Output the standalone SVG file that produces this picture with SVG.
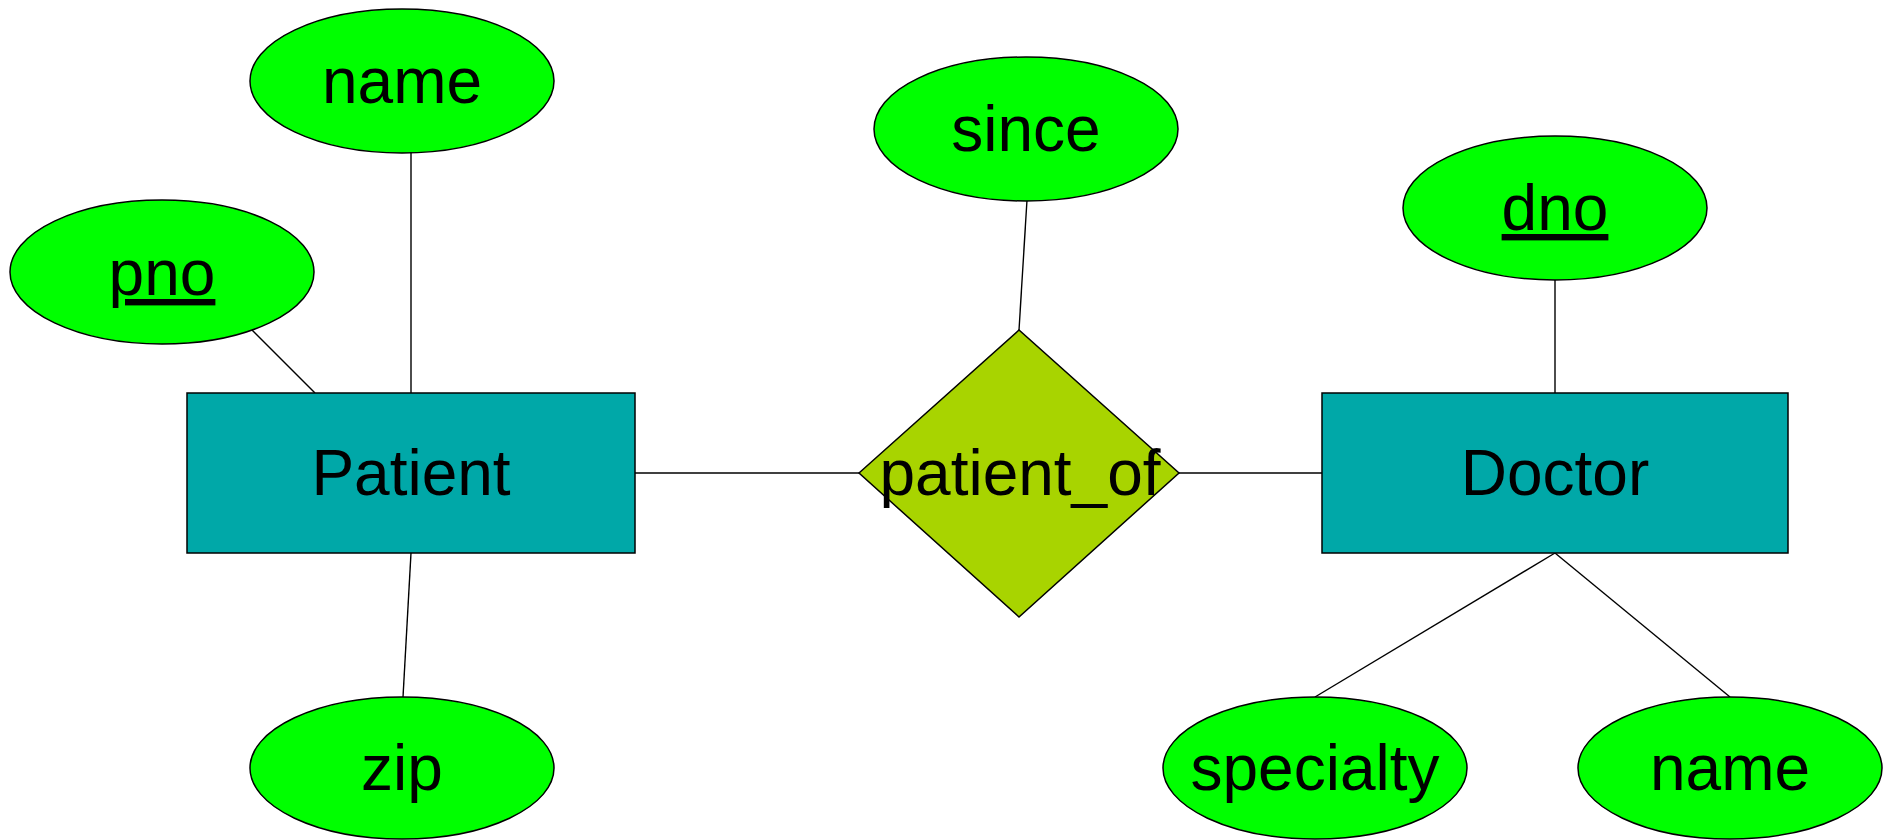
<svg xmlns="http://www.w3.org/2000/svg" width="1894" height="840" viewBox="0 0 1894 840">
<style>
.attr{fill:#00FF00;stroke:#000;stroke-width:1.5}
.ent{fill:#00A8A8;stroke:#000;stroke-width:1.5}
.rel{fill:#A8D400;stroke:#000;stroke-width:1.5}
.conn line{stroke:#000;stroke-width:1.4}
text{font-family:"Liberation Sans",Arial,sans-serif;font-size:64px;fill:#000;text-anchor:middle}
.key{text-decoration:underline}
</style>
<rect width="1894" height="840" fill="#fff"/>
<g id="connectors" class="conn">
<line x1="635" y1="473" x2="859" y2="473"/>
<line x1="1179" y1="473" x2="1322" y2="473"/>
<line x1="411" y1="152" x2="411" y2="393"/>
<line x1="251" y1="329" x2="315" y2="393"/>
<line x1="411" y1="553" x2="403" y2="697"/>
<line x1="1027" y1="200" x2="1019" y2="330"/>
<line x1="1555" y1="280" x2="1555" y2="393"/>
<line x1="1555" y1="553" x2="1315" y2="697"/>
<line x1="1555" y1="553" x2="1730" y2="697"/>
</g>
<g id="patient">
<rect class="ent" x="187" y="393" width="448" height="160"/>
<text x="411" y="495">Patient</text>
</g>
<g id="doctor">
<rect class="ent" x="1322" y="393" width="466" height="160"/>
<text x="1555" y="495">Doctor</text>
</g>
<g id="patient_of">
<polygon class="rel" points="859,473 1019,330 1179,473 1019,617"/>
<text x="1020" y="495">patient_of</text>
</g>
<g id="patient_name">
<ellipse class="attr" cx="402" cy="81" rx="152" ry="72"/>
<text x="402" y="103">name</text>
</g>
<g id="pno">
<ellipse class="attr" cx="162" cy="272" rx="152" ry="72"/>
<text class="key" x="162" y="295">pno</text>
</g>
<g id="zip">
<ellipse class="attr" cx="402" cy="768" rx="152" ry="71"/>
<text x="402" y="790">zip</text>
</g>
<g id="since">
<ellipse class="attr" cx="1026" cy="129" rx="152" ry="72"/>
<text x="1026" y="151">since</text>
</g>
<g id="dno">
<ellipse class="attr" cx="1555" cy="208" rx="152" ry="72"/>
<text class="key" x="1555" y="230">dno</text>
</g>
<g id="specialty">
<ellipse class="attr" cx="1315" cy="768" rx="152" ry="71"/>
<text x="1315" y="790">specialty</text>
</g>
<g id="doctor_name">
<ellipse class="attr" cx="1730" cy="768" rx="152" ry="71"/>
<text x="1730" y="790">name</text>
</g>
</svg>
